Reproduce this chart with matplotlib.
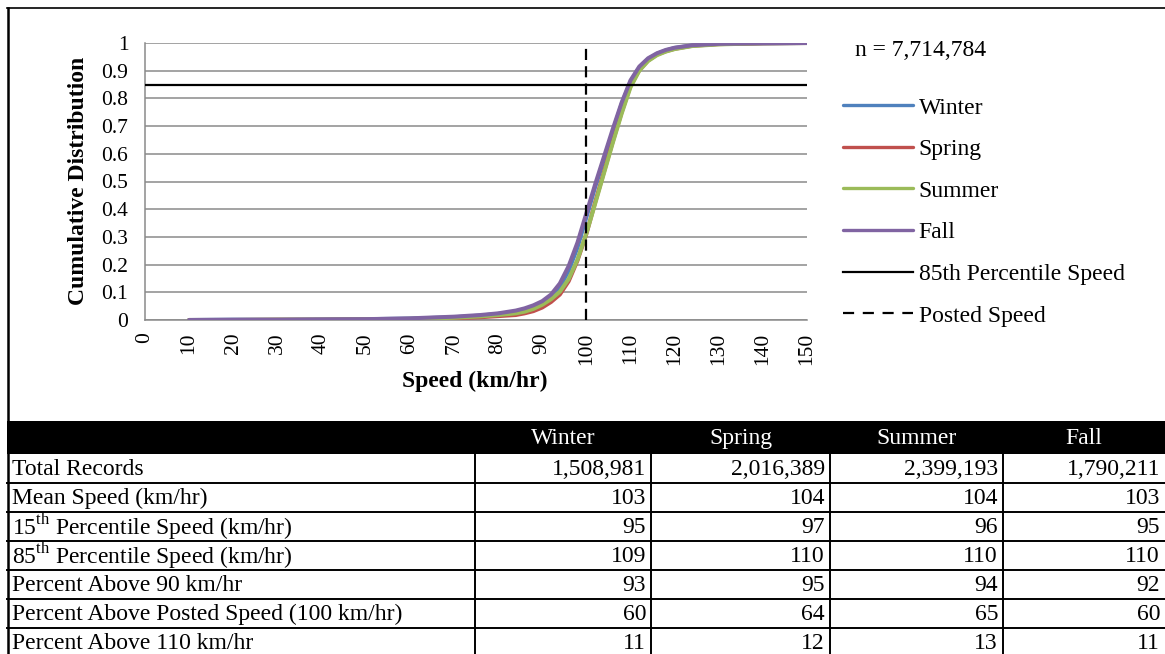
import matplotlib
matplotlib.use("Agg")
import matplotlib.pyplot as plt
from matplotlib.lines import Line2D
from matplotlib.patches import Rectangle

plt.rcParams["font.family"] = ["Liberation Serif", "DejaVu Serif"]
plt.rcParams["mathtext.fontset"] = "custom"
plt.rcParams["mathtext.rm"] = "Liberation Serif"

# ---------------- DATA ----------------
speeds = [10, 20, 30, 40, 50, 60, 70, 76, 80, 84, 86, 88, 90, 92, 94, 96, 98, 100, 102, 104,
          106, 108, 110, 112, 114, 116, 118, 120, 124, 130, 140, 150]
winter = [0.000, 0.001, 0.001, 0.002, 0.003, 0.005, 0.010, 0.016, 0.022, 0.030, 0.038, 0.048,
          0.062, 0.083, 0.118, 0.178, 0.262, 0.370, 0.480, 0.580, 0.680, 0.780, 0.860, 0.910,
          0.942, 0.961, 0.973, 0.982, 0.991, 0.997, 0.999, 1.000]
spring = [0.000, 0.000, 0.001, 0.001, 0.002, 0.003, 0.006, 0.010, 0.014, 0.018, 0.024, 0.032,
          0.045, 0.065, 0.092, 0.140, 0.215, 0.310, 0.425, 0.535, 0.645, 0.750, 0.845, 0.902,
          0.937, 0.958, 0.970, 0.979, 0.990, 0.996, 0.999, 1.000]
summer = [0.000, 0.000, 0.001, 0.001, 0.002, 0.004, 0.008, 0.013, 0.018, 0.024, 0.030, 0.040,
          0.055, 0.075, 0.102, 0.148, 0.218, 0.312, 0.420, 0.530, 0.640, 0.745, 0.840, 0.900,
          0.935, 0.956, 0.969, 0.978, 0.989, 0.995, 0.999, 1.000]
fall = [0.000, 0.001, 0.001, 0.002, 0.003, 0.006, 0.012, 0.018, 0.024, 0.034, 0.042, 0.053,
        0.068, 0.092, 0.132, 0.195, 0.280, 0.385, 0.490, 0.590, 0.690, 0.785, 0.865, 0.915,
        0.945, 0.963, 0.975, 0.983, 0.992, 0.997, 0.999, 1.000]

season_names = ["Winter", "Spring", "Summer", "Fall"]
season_colors = ["#4F81BD", "#C0504D", "#9BBB59", "#8064A2"]
pct85 = 0.85
posted = 100
n_text = "n = 7,714,784"

row_labels = ["Total Records", "Mean Speed (km/hr)",
              "15$^{\\mathrm{th}}$ Percentile Speed (km/hr)",
              "85$^{\\mathrm{th}}$ Percentile Speed (km/hr)",
              "Percent Above 90 km/hr", "Percent Above Posted Speed (100 km/hr)",
              "Percent Above 110 km/hr"]
table_values = [
    ["1,508,981", "2,016,389", "2,399,193", "1,790,211"],
    ["103", "104", "104", "103"],
    ["95", "97", "96", "95"],
    ["109", "110", "110", "110"],
    ["93", "95", "94", "92"],
    ["60", "64", "65", "60"],
    ["11", "12", "13", "11"],
]

# ---------------- FIGURE ----------------
W, H = 1165, 654
fig = plt.figure(figsize=(W / 100, H / 100), dpi=100)


def fx(px):
    return px / W


def fy(py):
    return 1 - py / H


# chart area in pixels
ax_l, ax_r, ax_t, ax_b = 145, 807, 43, 320
ax = fig.add_axes([fx(ax_l), fy(ax_b), fx(ax_r - ax_l), (ax_b - ax_t) / H])

for name, col, vals in zip(season_names, season_colors, [winter, spring, summer, fall]):
    ax.plot(speeds, vals, color=col, lw=2.9, label=name, solid_capstyle="round",
            solid_joinstyle="round", zorder=3)
ax.axhline(pct85, color="black", lw=1.6, zorder=4, label="85th Percentile Speed")
ax.axvline(posted, color="black", lw=1.6, ls=(0, (5, 2.8)), zorder=4, label="Posted Speed")

ax.set_xlim(0, 150)
ax.set_ylim(0, 1)
ax.set_xticks(range(0, 151, 10))
ax.set_yticks([i / 10 for i in range(11)])
ax.set_yticklabels(["0"] + [f"{i / 10:.1f}" for i in range(1, 10)] + ["1"])
ax.tick_params(axis="both", length=0, labelsize=15.5)
ax.tick_params(axis="y", pad=12)
ax.tick_params(axis="x", pad=9, labelrotation=90)
ax.grid(axis="y", color="#8a8a8a", lw=1.1)
for s in ["top", "right"]:
    ax.spines[s].set_visible(False)
for s in ["left", "bottom"]:
    ax.spines[s].set_color("#8a8a8a")
    ax.spines[s].set_linewidth(1.1)

fig.text(fx(475), fy(381), "Speed (km/hr)", ha="center", va="center",
         fontsize=17, fontweight="bold")
fig.text(fx(78), fy(181), "Cumulative Distribution", ha="center", va="center",
         rotation=90, fontsize=17, fontweight="bold")

# legend
fig.text(fx(855), fy(50), n_text, ha="left", va="center", fontsize=17)
handles, labels = ax.get_legend_handles_labels()
leg = fig.legend(handles, labels, loc="upper left", bbox_to_anchor=(fx(843), fy(97)),
                 frameon=False, fontsize=17, handlelength=2.95, handletextpad=0.25,
                 labelspacing=0.85, borderaxespad=0, borderpad=0)
for h in leg.legend_handles:
    if h.get_color() != "black":
        h.set_linewidth(2.4)
    else:
        h.set_linewidth(1.6)
        if h.get_linestyle() != "-":
            h.set_linestyle((0, (5, 3.9)))

# frame
fig.add_artist(Line2D([fx(7), fx(1165)], [fy(8), fy(8)], color="black", lw=1.2))
fig.add_artist(Line2D([fx(8), fx(8)], [fy(8), fy(654)], color="black", lw=1.8))

# ---------------- TABLE ----------------
col_edges = [7, 475, 651, 830, 1003, 1165]
head_top, head_bot = 421, 454
row_h = 29
tsize = 17

fig.add_artist(Rectangle((fx(7), fy(head_bot)), fx(1165 - 7), (head_bot - head_top) / H,
                         facecolor="black", edgecolor="none"))
for j, name in enumerate(season_names):
    cx = (col_edges[j + 1] + col_edges[j + 2]) / 2
    fig.text(fx(cx), fy((head_top + head_bot) / 2 + 1), name, ha="center", va="center",
             color="white", fontsize=tsize)

for i, (lab, vals) in enumerate(zip(row_labels, table_values)):
    top = head_bot + i * row_h
    cy = top + row_h / 2 + 1
    fig.text(fx(12), fy(cy), lab, ha="left", va="center", fontsize=tsize)
    for j, v in enumerate(vals):
        fig.text(fx(col_edges[j + 2] - 5), fy(cy), v, ha="right", va="center", fontsize=tsize)
    bot = top + row_h
    if bot < H:
        fig.add_artist(Line2D([fx(7), fx(1165)], [fy(bot), fy(bot)], color="black", lw=1.4))

for xe in col_edges[1:-1]:
    fig.add_artist(Line2D([fx(xe), fx(xe)], [fy(head_bot), fy(654)], color="black", lw=1.4))

fig.savefig("out.png", dpi=100)
